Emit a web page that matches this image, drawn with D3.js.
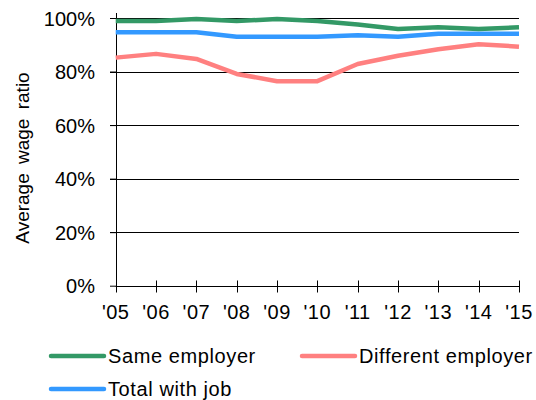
<!DOCTYPE html>
<html><head><meta charset="utf-8">
<script src="https://cdn.jsdelivr.net/npm/d3@7"></script>
<style>body{margin:0;background:#fff}svg{display:block}text{font-family:"Liberation Sans",Arial,sans-serif;fill:#000}</style>
</head><body><svg id="c" width="536" height="400"></svg>
<script>
const years = ["'05","'06","'07","'08","'09","'10","'11","'12","'13","'14","'15"];
const sameEmployer = [98.9, 98.9, 99.6, 98.9, 99.6, 98.9, 97.6, 95.9, 96.5, 95.9, 96.5];
const differentEmployer = [85.2, 86.6, 84.7, 79.1, 76.4, 76.4, 82.8, 85.9, 88.3, 90.2, 89.3];
const totalWithJob = [94.7, 94.7, 94.7, 93.0, 93.0, 93.0, 93.6, 93.0, 94.1, 94.1, 94.1];
const yTicks = [0, 20, 40, 60, 80, 100];
const seriesNames = ["Same employer", "Different employer", "Total with job"];
const seriesColors = ["#339966", "#FF8080", "#3399FF"];

const svg = d3.select("#c");
const x = d3.scalePoint().domain(years).range([115.7, 519]);
const y = d3.scaleLinear().domain([0, 100]).range([285.7, 18]);

// gridlines
svg.append("g").selectAll("line").data(yTicks.filter(d => d > 0)).join("line")
  .attr("x1", 110).attr("x2", 519)
  .attr("y1", d => Math.round(y(d)) + 0.5).attr("y2", d => Math.round(y(d)) + 0.5)
  .attr("stroke", "#000").attr("stroke-width", 1);

// y axis
const yAxis = d3.axisLeft(y).tickValues(yTicks).tickSize(6).tickPadding(15).tickFormat(d => d + "%");
const gy = svg.append("g").attr("transform", "translate(116,0)").call(yAxis);
gy.select(".domain").attr("stroke", "#000").attr("d", "M0.5," + (y(100) - 5) + "V" + y(0));
gy.selectAll(".tick line").attr("stroke", "#000");
gy.selectAll("text").style("font-size", "20px").attr("dy", "0.35em");

// x axis
const gx = svg.append("g").attr("transform", "translate(0," + (Math.round(y(0)) + 0.5) + ")");
gx.append("line").attr("x1", 115.7).attr("x2", 519).attr("stroke", "#000");
gx.selectAll("line.t").data(years).join("line").attr("class", "t")
  .attr("x1", d => Math.round(x(d)) + 0.5).attr("x2", d => Math.round(x(d)) + 0.5)
  .attr("y1", -6).attr("y2", 6).attr("stroke", "#000");
gx.selectAll("text").data(years).join("text")
  .attr("x", d => x(d)).attr("y", 32).attr("text-anchor", "middle")
  .style("font-size", "20px").style("letter-spacing", "0.5px").text(d => d);

// lines
const data = [sameEmployer, differentEmployer, totalWithJob];
const line = d3.line().x((d, i) => x(years[i])).y(d => y(d));
[1, 2, 0].forEach(k => {
  svg.append("path").datum(data[k]).attr("d", line)
    .attr("fill", "none").attr("stroke", seriesColors[k]).attr("stroke-width", 4.5)
    .attr("stroke-linejoin", "round");
});

// y label
svg.append("text").attr("transform", "translate(29,158) rotate(-90)")
  .attr("text-anchor", "middle").style("font-size", "19px").style("word-spacing", "4px")
  .text("Average wage ratio");

// legend
const legendPos = [[51, 356], [302, 356], [51, 389]];
seriesNames.forEach((n, k) => {
  const [lx, ly] = legendPos[k];
  svg.append("line").attr("x1", lx).attr("x2", lx + 53).attr("y1", ly).attr("y2", ly)
    .attr("stroke", seriesColors[k]).attr("stroke-width", 4.5).attr("stroke-linecap", "round");
  svg.append("text").attr("x", lx + 57).attr("y", ly).attr("dy", "0.35em")
    .style("font-size", "20px").style("letter-spacing", "0.6px").text(n);
});
</script></body></html>
